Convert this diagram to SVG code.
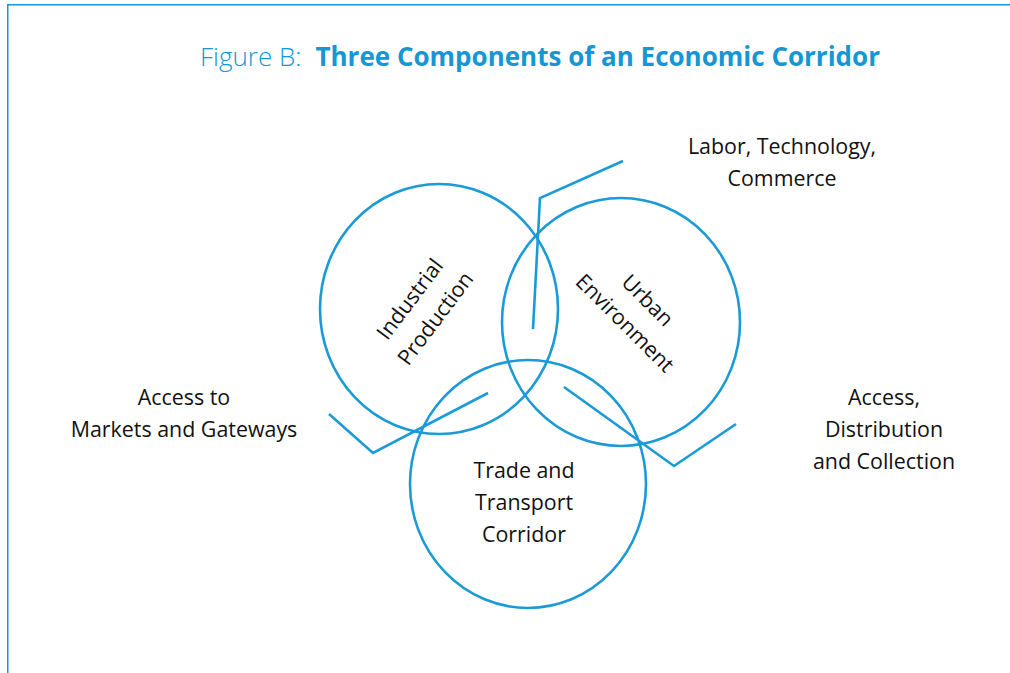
<svg xmlns="http://www.w3.org/2000/svg" width="1010" height="673" viewBox="0 0 1010 673">
<style>
.frame{fill:none;stroke:#1497d4;stroke-width:1.5}
.ring{fill:none;stroke:#1a9ad6;stroke-width:2.6}
.conn{fill:none;stroke:#1a9ad6;stroke-width:2.6;stroke-linejoin:miter}
.lbl{font-family:"Open Sans","Liberation Sans",sans-serif;font-size:21.4px;fill:#111;text-anchor:middle}
.title{font-family:"Open Sans","Liberation Sans",sans-serif;font-size:26px;fill:#1497d4}
</style>
<rect width="1010" height="673" fill="#fff"/>
<path class="frame" d="M7.75,673 V4.75 H1010"/>
<text class="title" x="200" y="66"><tspan font-weight="300">Figure B:</tspan><tspan font-weight="700" dx="14">Three Components of an Economic Corridor</tspan></text>
<g id="connectors">
<polyline class="conn" points="623,161 540,198 533,329"/>
<polyline class="conn" points="329,414 373,453 488,393"/>
<polyline class="conn" points="564,387 674,466 736,424"/>
</g>
<g id="industrial">
<ellipse class="ring" cx="439" cy="309" rx="119" ry="125"/>
<g transform="translate(423,309) rotate(-53)">
<text class="lbl" y="-9">Industrial</text>
<text class="lbl" y="23">Production</text>
</g>
</g>
<g id="urban">
<ellipse class="ring" cx="621" cy="322" rx="119" ry="124"/>
<g transform="translate(636,312) rotate(45)">
<text class="lbl" y="-9">Urban</text>
<text class="lbl" y="23">Environment</text>
</g>
</g>
<g id="trade">
<ellipse class="ring" cx="528" cy="484" rx="118" ry="124"/>
<text class="lbl" x="524" y="478">Trade and</text>
<text class="lbl" x="524" y="510">Transport</text>
<text class="lbl" x="524" y="542">Corridor</text>
</g>
<g id="label-labor">
<text class="lbl" x="782" y="154">Labor, Technology,</text>
<text class="lbl" x="782" y="186">Commerce</text>
</g>
<g id="label-markets">
<text class="lbl" x="184" y="405">Access to</text>
<text class="lbl" x="184" y="437">Markets and Gateways</text>
</g>
<g id="label-access">
<text class="lbl" x="884" y="405">Access,</text>
<text class="lbl" x="884" y="437">Distribution</text>
<text class="lbl" x="884" y="469">and Collection</text>
</g>
</svg>
